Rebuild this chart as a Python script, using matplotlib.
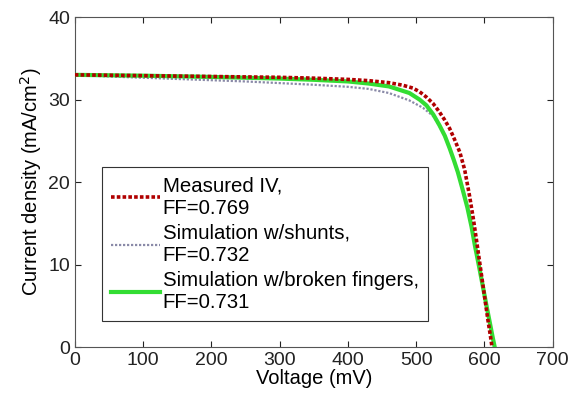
import matplotlib
matplotlib.use("Agg")
import matplotlib.pyplot as plt

plt.rcParams['font.family'] = ['Liberation Sans', 'DejaVu Sans']

# measured IV curve
v_meas = [0, 50, 100, 150, 200, 250, 300, 350, 400, 430, 460, 480, 495, 505, 515, 525,
          534, 542, 549, 556, 564, 571, 578, 584, 590, 595, 600, 605, 609, 611]
j_meas = [33.0, 32.95, 32.9, 32.85, 32.8, 32.75, 32.7, 32.6, 32.45, 32.3, 32.05, 31.75, 31.4, 30.95, 30.3, 29.5,
          28.5, 27.5, 26.5, 25.2, 23.6, 21.5, 18.4, 15.4, 12.0, 9.1, 6.2, 3.3, 1.2, 0.0]

# simulation with shunts
v_shunt = [0, 50, 100, 150, 200, 250, 300, 350, 400, 430, 460, 490, 510, 525, 534, 542,
           549, 555, 561, 568, 575, 581, 586, 592, 598, 603, 608, 612, 615]
j_shunt = [33.0, 32.8, 32.65, 32.5, 32.35, 32.2, 32.0, 31.8, 31.55, 31.3, 30.8, 29.9, 29.0, 28.0, 26.8, 25.5,
           24.0, 22.6, 21.1, 19.0, 16.8, 14.5, 12.2, 9.7, 7.1, 4.9, 2.8, 1.1, 0.0]

# simulation with broken fingers
v_broken = [0, 100, 200, 300, 350, 400, 430, 460, 490, 505, 515, 525, 534, 542, 549, 555,
            561, 568, 575, 581, 586, 592, 598, 603, 608, 612, 615]
j_broken = [33.0, 32.9, 32.75, 32.55, 32.4, 32.2, 31.95, 31.6, 30.8, 30.0, 29.3, 28.2, 26.9, 25.6, 24.1, 22.7,
            21.2, 19.1, 16.9, 14.6, 12.3, 9.8, 7.2, 5.0, 2.9, 1.2, 0.0]

fig = plt.figure(figsize=(5.8, 3.98), dpi=100)
ax = fig.add_axes([0.129, 0.128, 0.824, 0.829])

ax.plot(v_meas, j_meas, color='#b00000', linestyle=(0, (1, 0.6)), linewidth=2.6,
        label='Measured IV,\nFF=0.769', zorder=4)
ax.plot(v_shunt, j_shunt, color='#8a8aa8', linestyle=(0, (1, 0.8)), linewidth=1.6,
        label='Simulation w/shunts,\nFF=0.732', zorder=2)
ax.plot(v_broken, j_broken, color='#33dd33', linewidth=3,
        label='Simulation w/broken fingers,\nFF=0.731', zorder=3)

ax.set_xlim(0, 700)
ax.set_ylim(0, 40)
ax.set_xticks(range(0, 701, 100))
ax.set_yticks(range(0, 41, 10))
ax.tick_params(direction='in', top=True, right=True, labelsize=14, length=4, colors='#222222')
for s in ax.spines.values():
    s.set_color('#555555')
ax.set_xlabel('Voltage (mV)', fontsize=14.5, labelpad=0)
ax.set_ylabel('Current density (mA/cm$^2$)', fontsize=14.5, labelpad=3)

leg = ax.legend(loc='lower left', bbox_to_anchor=(0.056, 0.079), borderaxespad=0,
                fontsize=14.7, fancybox=False, framealpha=1, edgecolor='#333333',
                handlelength=2.4, handletextpad=0.15, labelspacing=0.3, borderpad=0.45)
leg.get_frame().set_linewidth(0.8)

fig.savefig('out.png', dpi=100)
